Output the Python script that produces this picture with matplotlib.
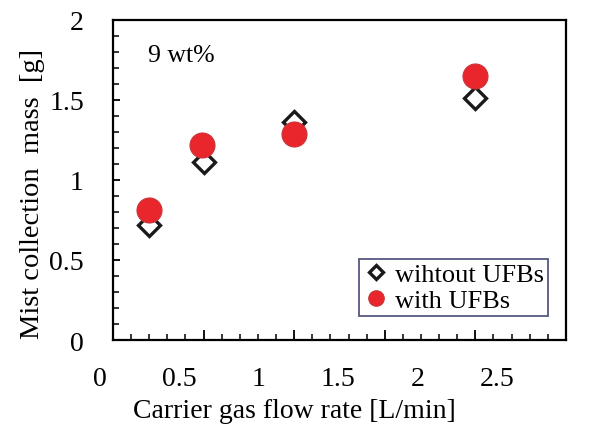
import matplotlib
matplotlib.use("Agg")
import matplotlib.pyplot as plt
import matplotlib.transforms as mtransforms
from matplotlib.ticker import MultipleLocator, NullFormatter

# flow rate [L/min] and collected mist mass [g]
flow_without = [0.2, 0.5, 1.0, 2.0]
mass_without = [0.72, 1.11, 1.36, 1.51]
flow_with = [0.2, 0.49, 1.0, 2.0]
mass_with = [0.81, 1.22, 1.29, 1.65]

x_labels = [0, 0.5, 1, 1.5, 2, 2.5]

plt.rcParams['font.family'] = ['Liberation Serif', 'DejaVu Serif']

fig = plt.figure(figsize=(5.95, 4.35), dpi=100)
ax = fig.add_axes([0.19, 0.216, 0.761, 0.736])

ax.plot(flow_without, mass_without, linestyle='none', marker='D', ms=11.5,
        mfc='white', mec='#1a1a1a', mew=2.4, label='wihtout UFBs', zorder=3)
ax.plot(flow_with, mass_with, linestyle='none', marker='o', ms=18,
        mfc='#e8262c', mec='#c9343a', mew=0.8, label='with UFBs', zorder=4)

ax.set_xlim(0, 2.5)
ax.set_ylim(0, 2)
ax.xaxis.set_major_locator(MultipleLocator(0.5))
ax.xaxis.set_minor_locator(MultipleLocator(0.1))
ax.yaxis.set_major_locator(MultipleLocator(0.5))
ax.yaxis.set_minor_locator(MultipleLocator(0.1))
ax.xaxis.set_major_formatter(NullFormatter())
ax.yaxis.set_major_formatter(plt.FuncFormatter(lambda v, p: f"{v:g}"))

ax.tick_params(which='major', direction='in', length=7, width=1.3, labelsize=20)
ax.tick_params(which='minor', direction='in', length=4.5, width=1.1)
ax.tick_params(axis='y', which='major', length=5, pad=21)
for s in ax.spines.values():
    s.set_linewidth(1.6)

# the x tick labels in the original sit on a slightly squeezed scale
trans = mtransforms.blended_transform_factory(ax.transData, ax.transAxes)
for v in x_labels:
    ax.text(0.876 * v - 0.072, -0.12, f"{v:g}", transform=trans, ha='center',
            va='center', fontsize=20, clip_on=False)

ax.set_xlabel('Carrier gas flow rate [L/min]', fontsize=20)
ax.xaxis.set_label_coords(0.40, -0.18)
ax.set_ylabel('Mist collection  mass  [g]', fontsize=20.5)
ax.yaxis.set_label_coords(-0.15, 0.46)

ax.text(0.077, 0.89, '9 wt%', transform=ax.transAxes, fontsize=18.5, va='center')

leg = ax.legend(loc='lower right', bbox_to_anchor=(0.96, 0.075), fontsize=19,
                frameon=True, fancybox=False, handletextpad=0.2, borderpad=0.15,
                labelspacing=0.1, handlelength=1.0, borderaxespad=0)
leg.get_frame().set_edgecolor('#2b2f5e')
leg.get_frame().set_linewidth(1.3)
for h in leg.legend_handles:
    h.set_markersize(h.get_markersize() * 0.62)

fig.savefig('out.png', dpi=100)
